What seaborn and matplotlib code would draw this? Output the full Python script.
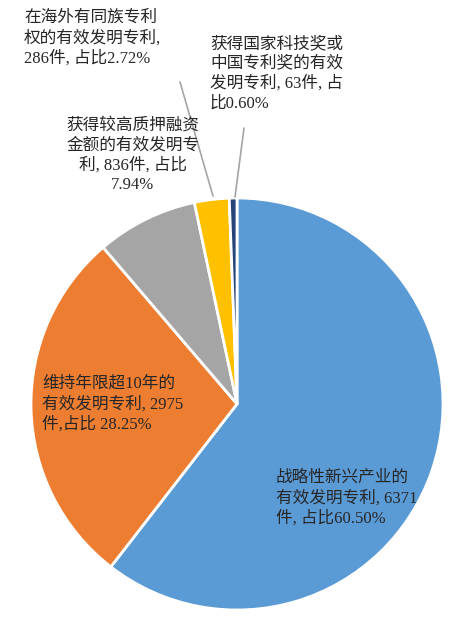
import matplotlib
matplotlib.use('Agg')
import matplotlib.pyplot as plt
import seaborn as sns

sns.set_style('white')
plt.rcParams['font.family'] = ['Liberation Serif', 'Noto Sans CJK SC']

shares = [60.50, 28.25, 7.94, 2.72, 0.60]
colors = ['#5B9BD5', '#ED7D31', '#A5A5A5', '#FFC000', '#264478']
labels = [
    '战略性新兴产业的\n有效发明专利, 6371\n件, 占比60.50%',
    '维持年限超10年的\n有效发明专利, 2975\n件,占比 28.25%',
    '获得较高质押融资\n金额的有效发明专\n利, 836件, 占比\n7.94%',
    '在海外有同族专利\n权的有效发明专利,\n286件, 占比2.72%',
    '获得国家科技奖或\n中国专利奖的有效\n发明专利, 63件, 占\n比0.60%',
]

W, H = 465, 628
cx, cy, r = 237, 404, 206
fig = plt.figure(figsize=(W / 100, H / 100), dpi=100)
ax = fig.add_axes([(cx - r) / W, (H - cy - r) / H, 2 * r / W, 2 * r / H])
ax.pie(shares, colors=colors, startangle=90, counterclock=False,
       wedgeprops=dict(edgecolor='white', linewidth=2))
ax.set_xlim(-1, 1)
ax.set_ylim(-1, 1)


def px(x, y):
    return x / W, 1 - y / H


fs = 12
fig.text(*px(276, 470), labels[0], fontsize=fs, va='top', ha='left', linespacing=1.3)
fig.text(*px(42, 376), labels[1], fontsize=fs, va='top', ha='left', linespacing=1.3)
fig.text(*px(133, 118), labels[2], fontsize=fs, va='top', ha='center', linespacing=1.3)
fig.text(*px(24, 10), labels[3], fontsize=fs, va='top', ha='left', linespacing=1.3)
fig.text(*px(210, 36), labels[4], fontsize=fs, va='top', ha='left', linespacing=1.3)

# leader lines
fig.add_artist(plt.Line2D([180 / W, 213 / W], [1 - 82 / H, 1 - 196 / H],
                          color='#A5A5A5', lw=1.2))
fig.add_artist(plt.Line2D([244 / W, 235 / W], [1 - 128 / H, 1 - 197 / H],
                          color='#A5A5A5', lw=1.2))

fig.savefig('out.png', dpi=100)
